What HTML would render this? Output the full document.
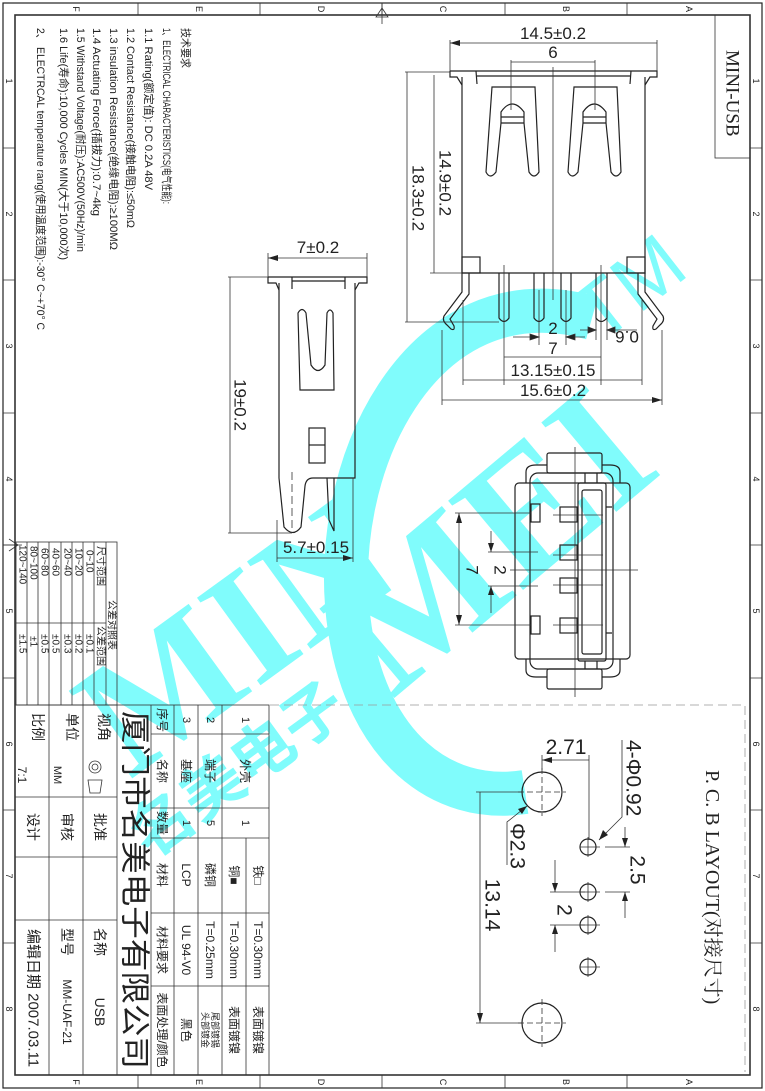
<!DOCTYPE html>
<html><head><meta charset="utf-8">
<style>
html,body{margin:0;padding:0;background:#fff;}
svg{display:block;}
text{font-family:"Liberation Sans","Noto Sans CJK SC",sans-serif;fill:#222;}
.s{font-family:"Liberation Serif","Noto Serif CJK SC","Noto Sans CJK SC",serif;}
.m{font-family:"Liberation Mono","Noto Sans CJK SC",monospace;}
.ln{fill:none;stroke:#222;stroke-width:1.2;}
.th{fill:none;stroke:#333;stroke-width:0.8;}
.dm{fill:none;stroke:#333;stroke-width:0.8;marker-start:url(#ar);marker-end:url(#ar);}
</style></head><body>
<svg width="765" height="1091" viewBox="0 0 765 1091" xmlns="http://www.w3.org/2000/svg">
<defs>
<marker id="ar" viewBox="0 0 10 6" refX="10" refY="3" markerWidth="10" markerHeight="6" markerUnits="userSpaceOnUse" orient="auto-start-reverse">
<path d="M0,0 L10,3 L0,6 Z" fill="#222"/></marker>
</defs>
<rect width="765" height="1091" fill="#fff"/>

<!-- watermark -->
<g>
<path d="M592,318 C420,270 325,470 350,630 C368,745 440,805 525,792" fill="none" stroke="#80fcfc" stroke-width="44"/>
<text class="s" font-size="165" font-weight="bold" transform="translate(130,780) rotate(-36)" style="fill:#80fcfc">MIN</text>
<text class="s" font-size="178" font-weight="bold" transform="translate(392,700) rotate(-40)" style="fill:#80fcfc">MEI</text>
<text font-size="80" transform="translate(600,345) rotate(-38)" style="fill:#80fcfc">TM</text>
<text font-size="62" font-weight="bold" transform="translate(150,860) rotate(-36)" style="fill:#80fcfc">名美电子</text>
</g>

<!-- frame -->
<rect x="3" y="3" width="759" height="1085" class="ln"/>
<rect x="15" y="15" width="735" height="1060" fill="none" stroke="#333" stroke-width="1.6"/>
<g class="th">
<path d="M138,3V15M260,3V15M382,3V15M505,3V15M627,3V15"/>
<path d="M138,1075V1088M260,1075V1088M382,1075V1088M505,1075V1088M627,1075V1088"/>
<path d="M3,148H15M3,280H15M3,413H15M3,545H15M3,678H15M3,810H15M3,943H15"/>
<path d="M750,148H762M750,280H762M750,413H762M750,545H762M750,678H762M750,810H762M750,943H762"/>
</g>
<g font-size="9" dominant-baseline="central" text-anchor="middle">
<text transform="translate(76,9) rotate(90)">F</text><text transform="translate(199,9) rotate(90)">E</text><text transform="translate(321,9) rotate(90)">D</text><text transform="translate(443,9) rotate(90)">C</text><text transform="translate(566,9) rotate(90)">B</text><text transform="translate(689,9) rotate(90)">A</text>
<text transform="translate(76,1082) rotate(90)">F</text><text transform="translate(199,1082) rotate(90)">E</text><text transform="translate(321,1082) rotate(90)">D</text><text transform="translate(443,1082) rotate(90)">C</text><text transform="translate(566,1082) rotate(90)">B</text><text transform="translate(689,1082) rotate(90)">A</text>
<text transform="translate(9,81) rotate(90)">1</text><text transform="translate(9,214) rotate(90)">2</text><text transform="translate(9,346) rotate(90)">3</text><text transform="translate(9,479) rotate(90)">4</text><text transform="translate(9,611) rotate(90)">5</text><text transform="translate(9,744) rotate(90)">6</text><text transform="translate(9,876) rotate(90)">7</text><text transform="translate(9,1009) rotate(90)">8</text>
<text transform="translate(756,81) rotate(90)">1</text><text transform="translate(756,214) rotate(90)">2</text><text transform="translate(756,346) rotate(90)">3</text><text transform="translate(756,479) rotate(90)">4</text><text transform="translate(756,611) rotate(90)">5</text><text transform="translate(756,744) rotate(90)">6</text><text transform="translate(756,876) rotate(90)">7</text><text transform="translate(756,1009) rotate(90)">8</text>
</g>
<path d="M382,3V24M376,17L382,8L388,17Z M3,545H22M9,539L18,545L9,551" class="th"/>

<!-- tech notes -->
<g class="m" font-size="11" dominant-baseline="central">
<text transform="translate(185,28) rotate(90)" textLength="40" lengthAdjust="spacingAndGlyphs">技术要求</text>
<text transform="translate(166,28) rotate(90)" textLength="176" lengthAdjust="spacingAndGlyphs">1、ELECTRICAL CHARACTERISTICS(电气性能):</text>
<text transform="translate(148,28) rotate(90)" textLength="162" lengthAdjust="spacingAndGlyphs">1.1 Rating(额定值): DC 0.2A 48V</text>
<text transform="translate(130,28) rotate(90)" textLength="200" lengthAdjust="spacingAndGlyphs">1.2 Contact Resistance(接触电阻):≤50mΩ</text>
<text transform="translate(113,28) rotate(90)" textLength="222" lengthAdjust="spacingAndGlyphs">1.3 insulation Resistance(绝缘电阻):≥100MΩ</text>
<text transform="translate(96,28) rotate(90)" textLength="188" lengthAdjust="spacingAndGlyphs">1.4 Actuating Force(插拔力):0.7~4kg</text>
<text transform="translate(80,28) rotate(90)" textLength="224" lengthAdjust="spacingAndGlyphs">1.5 Withstand Voltage(耐压):AC500V(50Hz)/min</text>
<text transform="translate(63,28) rotate(90)" textLength="232" lengthAdjust="spacingAndGlyphs">1.6 Life(寿命):10,000 Cycles MIN(大于10,000次)</text>
<text transform="translate(40,28) rotate(90)" textLength="302" lengthAdjust="spacingAndGlyphs">2、 ELECTRCAL temperature rang(使用温度范围):-30° C~+70° C</text>
</g>

<!-- tolerance table -->
<g class="th">
<rect x="16" y="542" width="101" height="163"/>
<path d="M106,542V705M94,542V705M83,542V705M72,542V705M61,542V705M49,542V705M38,542V705M27,542V705M16,623H106"/>
</g>
<g class="s" font-size="10" dominant-baseline="central">
<text transform="translate(111,600) rotate(90)">公差对照表</text>
<text transform="translate(100,546) rotate(90)">尺寸范围</text><text transform="translate(100,626) rotate(90)">公差范围</text>
<text transform="translate(89,550) rotate(90)">0~10</text><text transform="translate(89,634) rotate(90)">±0.1</text>
<text transform="translate(78,548) rotate(90)">10~20</text><text transform="translate(78,634) rotate(90)">±0.2</text>
<text transform="translate(67,548) rotate(90)">20~40</text><text transform="translate(67,634) rotate(90)">±0.3</text>
<text transform="translate(55,548) rotate(90)">40~60</text><text transform="translate(55,634) rotate(90)">±0.5</text>
<text transform="translate(44,548) rotate(90)">60~80</text><text transform="translate(44,634) rotate(90)">±0.5</text>
<text transform="translate(33,546) rotate(90)">80~100</text><text transform="translate(33,636) rotate(90)">±1</text>
<text transform="translate(22,545) rotate(90)">120~140</text><text transform="translate(22,634) rotate(90)">±1.5</text>
</g>

<!-- title block -->
<g class="th" stroke-width="1.1">
<rect x="15" y="705" width="254" height="370"/>
<path d="M49,705V1075M83,705V1075M117,705V1075M151,705V1075M174,705V1075M198,705V1075M222,705V1075M246,838V1075"/>
<path d="M15,797H117M15,857H117M15,920H117"/>
<path d="M151,734H269M151,808H269M151,838H269M151,913H269M151,986H269"/>
</g>
<g class="s" dominant-baseline="central" text-anchor="middle">
<text font-size="30" transform="translate(134,890) rotate(90)" textLength="358" lengthAdjust="spacingAndGlyphs">厦门市名美电子有限公司</text>
<g font-size="14">
<text transform="translate(104,727) rotate(90)">视角</text>
<text transform="translate(72,727) rotate(90)">单位</text>
<text transform="translate(38,727) rotate(90)">比例</text>
<text transform="translate(57,775) rotate(90)" font-size="11">MM</text>
<text transform="translate(22,775) rotate(90)" font-size="12">7:1</text>
<text transform="translate(100,827) rotate(90)">批准</text>
<text transform="translate(67,827) rotate(90)">审核</text>
<text transform="translate(33,827) rotate(90)">设计</text>
<text transform="translate(100,942) rotate(90)">名称</text>
<text transform="translate(100,1012) rotate(90)">USB</text>
<text transform="translate(67,942) rotate(90)">型号</text>
<text transform="translate(67,1012) rotate(90)" font-size="12">MM-UAF-21</text>
<text transform="translate(33,998) rotate(90)" font-size="15">编辑日期 2007.03.11</text>
<text transform="translate(162,720) rotate(90)" font-size="12">序号</text>
<text transform="translate(186,720) rotate(90)" font-size="11">3</text>
<text transform="translate(210,720) rotate(90)" font-size="11">2</text>
<text transform="translate(245,720) rotate(90)" font-size="11">1</text>
<text transform="translate(162,771) rotate(90)" font-size="12">名称</text>
<text transform="translate(186,771) rotate(90)" font-size="12">基座</text>
<text transform="translate(210,771) rotate(90)" font-size="12">端子</text>
<text transform="translate(245,771) rotate(90)" font-size="12">外壳</text>
<text transform="translate(162,823) rotate(90)" font-size="12">数量</text>
<text transform="translate(186,823) rotate(90)" font-size="11">1</text>
<text transform="translate(210,823) rotate(90)" font-size="11">5</text>
<text transform="translate(245,823) rotate(90)" font-size="11">1</text>
<text transform="translate(162,875) rotate(90)" font-size="12">材料</text>
<text transform="translate(186,875) rotate(90)" font-size="12">LCP</text>
<text transform="translate(210,875) rotate(90)" font-size="12">磷铜</text>
<text transform="translate(234,875) rotate(90)" font-size="12">铜■</text>
<text transform="translate(258,875) rotate(90)" font-size="12">铁□</text>
<text transform="translate(162,950) rotate(90)" font-size="12">材料要求</text>
<text transform="translate(186,950) rotate(90)" font-size="12">UL 94-V0</text>
<text transform="translate(210,950) rotate(90)" font-size="12">T=0.25mm</text>
<text transform="translate(234,950) rotate(90)" font-size="12">T=0.30mm</text>
<text transform="translate(258,950) rotate(90)" font-size="12">T=0.30mm</text>
<text transform="translate(162,1030) rotate(90)" font-size="12">表面处理/颜色</text>
<text transform="translate(186,1030) rotate(90)" font-size="12">黑色</text>
<text transform="translate(205,1030) rotate(90)" font-size="9">头部镀金</text>
<text transform="translate(215,1030) rotate(90)" font-size="9">尾部镀锡</text>
<text transform="translate(234,1030) rotate(90)" font-size="12">表面镀镍</text>
<text transform="translate(258,1030) rotate(90)" font-size="12">表面镀镍</text>
</g></g>
<g class="th"><circle cx="95" cy="767" r="6"/><circle cx="95" cy="767" r="3"/><path d="M88,780H102L100,793H90Z"/></g>

<!-- MINI-USB box -->
<rect x="715" y="15" width="35" height="143" class="th"/>
<text class="s" font-size="19" dominant-baseline="central" transform="translate(732,50) rotate(90)">MINI-USB</text>

<!-- PCB dashed frame -->
<path d="M270,705H745V1072" fill="none" stroke="#999" stroke-width="0.8" stroke-dasharray="9,5"/>
<text class="s" font-size="20" dominant-baseline="central" transform="translate(712,770) rotate(90)">P. C. B LAYOUT(对接尺寸)</text>

<!-- TOP VIEW -->
<g class="ln">
<path d="M450,71H657V77H650L645,85 M450,71V77H457L462,85"/>
<path d="M476,71L477,84 M631,71L630,84 M477,76H630"/>
<path d="M462,77V273H645V77"/>
<rect x="462" y="257" width="18" height="16"/><rect x="627" y="257" width="18" height="16"/>
<path d="M492,87L486,172Q490,180 496,172L501,123H524L529,172Q534,180 539,172L535,87Z M501,123V112Q512,96 524,112V123 M501,117H524"/>
<path d="M574,87L568,172Q572,180 578,172L583,123H606L611,172Q616,180 621,172L617,87Z M583,123V112Q594,96 606,112V123 M583,117H606"/>
<path d="M499,273V318Q504,325 509,318V273 M534,273V318Q539,325 544,318V273 M561,273V318Q566,325 571,318V273 M596,273V318Q601,325 607,318V273"/>
<path d="M462,273V292L444,316Q442,321 447,325L451,329Q455,331 454,326L450,319L469,294V273"/>
<path d="M645,273V292L663,316Q665,321 660,325L656,329Q652,331 653,326L657,319L638,294V273"/>
</g>
<g class="th">
<path d="M553,67V300"/>
<path d="M450,40V71M657,40V71M511,60V110M595,60V110"/>
<path d="M405,72H450M430,273H462M405,322H499"/>
<path d="M504,265V385M601,265V385M539,290V345M566,290V345M463,300V385M642,300V385M442,330V405M662,330V405M596,300V340M607,300V340"/>
</g>
<path class="dm" d="M450,43H657M511,62H595M434,75V273M407,72V322M504,357H601M463,380H642M442,400H662"/>
<path class="th" d="M513,337H539M566,337H585" />
<path d="M539,337l-9,-3v6z M566,337l9,-3v6z M580,330H596 M607,330H637 M596,330l-8,-3v6z M607,330l8,-3v6z" fill="#222" stroke="#333" stroke-width="0.8"/>
<g font-size="17" text-anchor="middle">
<text x="553" y="39">14.5±0.2</text>
<text x="553" y="58">6</text>
<text x="553" y="334">2</text>
<text x="553" y="354">7</text>
<text x="553" y="376">13.15±0.15</text>
<text x="553" y="396">15.6±0.2</text>
<text transform="translate(627,331) rotate(180)">0.6</text>
<text transform="translate(445,183) rotate(90)" dominant-baseline="central">14.9±0.2</text>
<text transform="translate(418,198) rotate(90)" dominant-baseline="central">18.3±0.2</text>
</g>

<!-- SIDE VIEW -->
<g class="ln">
<path d="M268,277H367V283H359L355,290 M268,277V283H276L279,290"/>
<path d="M292,277V289M345,277V289M292,281H345"/>
<path d="M355,283V478H313Q306,478 305,486L301,527Q293,538 284,527L279,478V283"/>
<path d="M327,478L329,520L334,531V478"/>
<path d="M298,313L300,390H334L333,313Q330,307 327,313L325,365Q318,376 311,365L306,313Q302,306 298,313Z"/>
<rect x="309" y="428" width="16" height="35"/><path d="M309,445H325"/>
</g>
<g class="th">
<path d="M292,472V530" stroke-dasharray="8,4"/>
<path d="M268,253V277M367,253V277M228,277H268M228,533H292M277,520V562M353,478V562"/>
</g>
<path class="dm" d="M268,258H367M230,277V533M277,558H353"/>
<g font-size="17" text-anchor="middle">
<text x="318" y="253">7±0.2</text>
<text x="316" y="553">5.7±0.15</text>
<text transform="translate(240,405) rotate(90)" dominant-baseline="central">19±0.2</text>
</g>

<!-- FRONT VIEW -->
<g class="ln">
<rect x="515" y="483" width="115" height="176" rx="4"/>
<rect x="530" y="473" width="83" height="196" rx="8"/>
<path d="M526,483V472Q526,465 536,465H547 M620,483V472Q620,465 610,465H602 M526,659V670Q526,677 536,677H547 M620,659V670Q620,677 610,677H602"/>
<rect x="547" y="453" width="55" height="20" rx="2"/>
<rect x="547" y="669" width="55" height="20" rx="2"/>
<rect x="578" y="483" width="28" height="178" rx="2"/>
<rect x="582" y="490" width="20" height="164" rx="2"/>
<path d="M585,473V483M597,473V483M585,661V669M597,661V669"/>
<rect x="560" y="507" width="17" height="15"/><rect x="560" y="545" width="17" height="15"/>
<rect x="560" y="578" width="17" height="15"/><rect x="560" y="618" width="17" height="15"/>
<rect x="531" y="504" width="9" height="18"/><rect x="531" y="616" width="9" height="18"/>
<path d="M606,507H612M606,633H612"/>
</g>
<g class="th">
<path d="M575,447V697M510,570H638"/>
<path d="M553,515H603M553,555H603M553,585H603M553,625H603"/>
<path d="M455,513H531M455,625H531M488,552H538M488,586H538"/>
</g>
<path class="dm" d="M459,513V625"/>
<path class="th" d="M491,531V552M491,586V613"/>
<path d="M491,552l-3,-9h6z M491,586l-3,9h6z" fill="#222"/>
<g font-size="17" text-anchor="middle" dominant-baseline="central">
<text transform="translate(472,570) rotate(90)">7</text>
<text transform="translate(500,570) rotate(90)">2</text>
</g>

<!-- PCB LAYOUT -->
<g class="ln" stroke-width="1.5">
<circle cx="542" cy="792" r="20"/><circle cx="542" cy="1023" r="20"/>
<circle cx="588" cy="847" r="8"/><circle cx="588" cy="892" r="8"/>
<circle cx="588" cy="925" r="8"/><circle cx="588" cy="967" r="8"/>
</g>
<g class="th">
<path d="M542,768V816M518,792H566M542,999V1047M518,1023H566" stroke-dasharray="6,3"/>
<path d="M580,847H600M588,837V857M580,892H600M588,882V902M580,925H600M588,915V935M580,967H600M588,957V977"/>
<path d="M542,755V770M589,755V840M476,792H522M476,1023H522"/>
<path d="M622,740V817L599,840"/>
<path d="M507,865V822L527,806"/>
<path d="M605,847H630M605,892H630M550,892H585M550,925H585"/>
<path d="M625,827V847M625,892V918M555,860V892M555,925V952"/>
</g>
<path class="dm" d="M542,760H589M480,792V1023"/>
<path d="M599,840l4,-10l5,5z M527,806l-9,3l4,5z M625,847l-3,-9h6z M625,892l-3,9h6z M555,892l-3,-9h6z M555,925l-3,9h6z" fill="#222"/>
<g font-size="21" text-anchor="middle">
<text x="566" y="754">2.71</text>
<g dominant-baseline="central">
<text transform="translate(633,740) rotate(90)" text-anchor="start">4-Φ0.92</text>
<text transform="translate(517,823) rotate(90)" text-anchor="start">Φ2.3</text>
<text transform="translate(637,870) rotate(90)">2.5</text>
<text transform="translate(564,910) rotate(90)">2</text>
<text transform="translate(492,905) rotate(90)">13.14</text>
</g></g>
</svg>
</body></html>
